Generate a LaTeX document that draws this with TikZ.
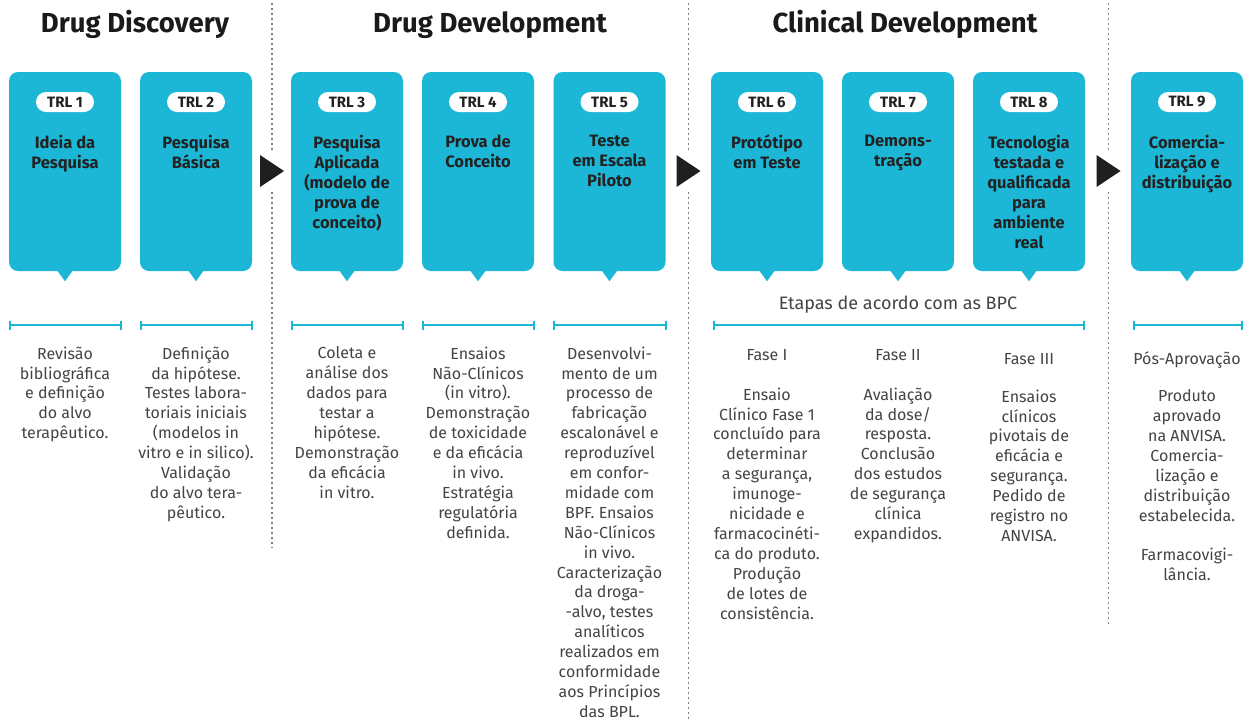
\documentclass[tikz,border=0pt]{standalone}
\usepackage{fontspec}
\setmainfont{Fira Sans}
\usetikzlibrary{arrows.meta}
\definecolor{trlcyan}{HTML}{1CB7D6}
\definecolor{titlegray}{HTML}{222222}
\definecolor{descgray}{HTML}{444444}
\definecolor{dotgray}{HTML}{808080}
\definecolor{headblack}{HTML}{1A1A1A}
\tikzset{
  trlbox/.style={fill=trlcyan, rounded corners=9pt, minimum width=112pt, minimum height=199pt, inner sep=0pt},
  pill/.style={fill=white, rounded corners=10pt, minimum height=20pt, minimum width=58pt, inner sep=0pt,
    font=\fontsize{15}{15}\selectfont\bfseries, text=titlegray},
  topfixed/.style={anchor=north, execute at begin node={\rule{0pt}{14pt}}},
  boxtitle/.style={align=center, inner sep=0pt, font=\fontsize{16.5}{20}\selectfont\bfseries, text=titlegray, topfixed},
  desc/.style={align=center, inner sep=0pt, font=\fontsize{16}{19.9}\selectfont, text=descgray, topfixed},
  header/.style={inner sep=0pt, anchor=base, font=\fontsize{27.5}{30}\selectfont\bfseries, text=headblack},
  ruler/.style={draw=trlcyan, line width=2pt, {Bar[width=9pt,line width=2pt]}-{Bar[width=9pt,line width=2pt]}},
  dotline/.style={draw=dotgray, line width=1.5pt, dash pattern=on 1.5pt off 3.5pt},
  phasearrow/.style={fill=black!88},
}
\begin{document}
\begin{tikzpicture}[x=1pt,y=-1pt]
\useasboundingbox (0,0) rectangle (1256,724);
\fill[white] (0,0) rectangle (1256,724);

% headers
\node[header] (h1) at (135,32) {Drug Discovery};
\node[header] (h2) at (490,32) {Drug Development};
\node[header] (h3) at (905,32) {Clinical Development};

% dotted separators
\foreach \k/\x/\e in {1/272/548, 2/688.5/720, 3/1108.5/625}{
  \coordinate (dt\k) at (\x,3);
  \coordinate (dg\k) at (\x,150);
  \coordinate (dh\k) at (\x,192);
  \coordinate (db\k) at (\x,\e);
  \draw[dotline] (dt\k) -- (dg\k);
  \draw[dotline] (dh\k) -- (db\k);
}

% arrows between phases
\foreach \x in {272, 688.5, 1108.5}{
  \fill[phasearrow] (\x-12,155) -- (\x+12,171) -- (\x-12,187) -- cycle;
}

% TRL boxes
\foreach \i/\x/\t in {
  1/65/{Ideia da\\Pesquisa},
  2/196/{Pesquisa\\Básica},
  3/347/{Pesquisa\\Aplicada\\(modelo de\\prova de\\conceito)},
  4/478/{Prova de\\Conceito},
  5/609.5/{Teste\\em Escala\\Piloto},
  6/767/{Protótipo\\em Teste},
  7/898/{Demons-\\tração},
  8/1029/{Tecnologia\\testada e\\qualificada\\para\\ambiente\\real},
  9/1187/{Comercia-\\lização e\\distribuição}}{
  \node[trlbox] (b\i) at (\x,171.5) {};
  \fill[trlcyan] ([xshift=-8pt,yshift=1pt]b\i.south) -- ([xshift=8pt,yshift=1pt]b\i.south) -- ([yshift=-10pt]b\i.south) -- cycle;
  \node[pill] (p\i) at (\x,102) {TRL \i};
  \node[boxtitle] (t\i) at (\x,135) {\t};
}

% rulers
\foreach \k/\a/\b in {1/9/122, 2/140/253, 3/291/404, 4/422/535, 5/553/667, 6/713/1085, 9/1133/1243}{
  \coordinate (rl\k) at (\a,325);
  \coordinate (rr\k) at (\b,325);
  \draw[ruler] (rl\k) -- (rr\k);
}
\node[anchor=base, inner sep=0pt, font=\fontsize{18}{20}\selectfont, text=descgray] (etapas) at (898,309) {Etapas de acordo com as BPC};

% descriptions
\node[desc] (d1) at (65,346.5) {Revisão\\bibliográfica\\e definição\\do alvo\\terapêutico.};
\node[desc] (d2) at (196,346.5) {Definição\\da hipótese.\\Testes labora-\\toriais iniciais\\(modelos in\\vitro e in silico).\\Validação\\do alvo tera-\\pêutico.};
\node[desc] (d3) at (347,346.5) {Coleta e\\análise dos\\dados para\\testar a\\hipótese.\\Demonstração\\da eficácia\\in vitro.};
\node[desc] (d4) at (478,346.5) {Ensaios\\Não-Clínicos\\(in vitro).\\Demonstração\\de toxicidade\\e da eficácia\\in vivo.\\Estratégia\\regulatória\\definida.};
\node[desc] (d5) at (609.5,346.5) {Desenvolvi-\\mento de um\\processo de\\fabricação\\escalonável e\\reproduzível\\em confor-\\midade com\\BPF. Ensaios\\Não-Clínicos\\in vivo.\\Caracterização\\da droga-\\-alvo, testes\\analíticos\\realizados em\\conformidade\\aos Princípios\\das BPL.};

\node[desc] (f6) at (767,346.5) {Fase I};
\node[desc] (f7) at (898,346.5) {Fase II};
\node[desc] (f8) at (1029,350.5) {Fase III};
\node[desc] (f9) at (1187,350.5) {Pós-Aprovação};

\node[desc] (d6) at (767,387.5) {Ensaio\\Clínico Fase 1\\concluído para\\determinar\\a segurança,\\imunoge-\\nicidade e\\farmacocinéti-\\ca do produto.\\Produção\\de lotes de\\consistência.};
\node[desc] (d7) at (898,387.5) {Avaliação\\da dose/\\resposta.\\Conclusão\\dos estudos\\de segurança\\clínica\\expandidos.};
\node[desc] (d8) at (1029,389.5) {Ensaios\\clínicos\\pivotais de\\eficácia e\\segurança.\\Pedido de\\registro no\\ANVISA.};
\node[desc] (d9) at (1187,389.5) {Produto\\aprovado\\na ANVISA.\\Comercia-\\lização e\\distribuição\\estabelecida.\\[19.9pt]Farmacovigi-\\lância.};
\end{tikzpicture}
\end{document}
